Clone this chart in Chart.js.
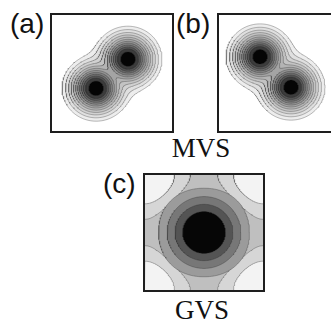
<!DOCTYPE html>
<html>
<head>
<meta charset="utf-8">
<script src="https://cdn.jsdelivr.net/npm/chart.js@4.4.1/dist/chart.umd.min.js"></script>
<style>
  html, body { margin: 0; padding: 0; background: #fff; overflow: hidden; }
  body { width: 331px; height: 322px; position: relative; }
  .panel { position: absolute; box-sizing: border-box; border: 2px solid #1e1e1e; background: #fff; }
  .panel canvas { display: block; }
  .tag { position: absolute; font-family: 'Liberation Sans', Arial, sans-serif; font-size: 28px; line-height: 1; color: #111; white-space: nowrap; }
  .caption { position: absolute; font-family: 'Liberation Serif', 'Times New Roman', serif; font-size: 27px; line-height: 1; color: #111; white-space: nowrap; transform: translateX(-50%); }
</style>
</head>
<body>
<div class="tag" style="left:10px;top:10px">(a)</div>
<div class="panel" style="left:50px;top:13px;width:124px;height:120px"><canvas id="chartA" width="120" height="116"></canvas></div>
<div class="tag" style="left:176px;top:10px">(b)</div>
<div class="panel" style="left:217px;top:13px;width:124px;height:120px"><canvas id="chartB" width="120" height="116"></canvas></div>
<div class="caption" style="left:201px;top:135px">MVS</div>
<div class="tag" style="left:103px;top:170px">(c)</div>
<div class="panel" id="panelC" style="left:143px;top:173px;width:122px;height:119px"><canvas id="chartC" width="118" height="115"></canvas></div>
<div class="caption" style="left:202px;top:297px">GVS</div>

<script>
// ===== DATA =====
// MVS panels: well centres in axis units (0..1), contour radii from outer to inner
const mvsWellsA = [[0.367, 0.368], [0.633, 0.62]];
const mvsWellsB = [[0.342, 0.64], [0.6, 0.377]];
const mvsRadii = [0.283, 0.254, 0.229, 0.208, 0.188, 0.17, 0.153, 0.137, 0.121, 0.105, 0.088, 0.062];
// GVS panel: axis -1..1, central ring radii (outer -> inner), corner contour levels (outer -> inner)
const gvsRingRadii = [0.77, 0.625, 0.49, 0.364];
const gvsCornerLevels = [-0.25, -1];

// ===== STYLE =====
const MVS_GREYS = ['#ededed', '#dfdfdf', '#d1d1d1', '#c3c3c3', '#b4b4b4', '#a4a4a4',
                   '#939393', '#808080', '#6c6c6c', '#565656', '#3c3c3c', '#050505'];
const GVS_RING_GREYS = ['#9b9b9b', '#777777', '#545454', '#060606'];
const GVS_RING_SHAPE = [2.15, 2, 2, 2];
const GVS_CORNER_GREYS = ['#d6d6d6', '#f3f3f3'];
const LINE_COLOR = 'rgba(40, 40, 40, 0.45)';
const SOFT_P = 6;

// ===== CONTOUR HELPERS =====
function softDist(wells, x, y) {
    let s = 0;
    wells.forEach(([cx, cy]) => {
        const d = Math.hypot(x - cx, y - cy) || 1e-9;
        s += Math.pow(d, -SOFT_P);
    });
    return Math.pow(s, -1 / SOFT_P);
}

// outermost crossing of inside() along rays from (ox, oy)
function traceLoop(inside, ox, oy, rMax, steps) {
    const pts = [];
    const dr = rMax / 200;
    for (let i = 0; i <= steps; i++) {
        const a = (i / steps) * Math.PI * 2;
        const dx = Math.cos(a), dy = Math.sin(a);
        let r = rMax;
        while (r > 0 && !inside(ox + dx * r, oy + dy * r)) r -= dr;
        let lo = Math.max(r, 0), hi = lo + dr;
        for (let k = 0; k < 20; k++) {
            const m = (lo + hi) / 2;
            if (inside(ox + dx * m, oy + dy * m)) lo = m; else hi = m;
        }
        pts.push({ x: ox + dx * lo, y: oy + dy * lo });
    }
    return pts;
}

function shapeSet(pts, color, k, line) {
    return {
        data: pts,
        backgroundColor: color,
        fill: color ? 'shape' : false,
        borderColor: LINE_COLOR,
        borderWidth: line ? 0.7 : 0,
        pointRadius: 0,
        tension: 0,
        order: -k
    };
}

function mvsDatasets(wells) {
    const [p, q] = wells;
    const mx = (p[0] + q[0]) / 2, my = (p[1] + q[1]) / 2;
    const saddle = softDist(wells, mx, my);
    const half = Math.hypot(p[0] - q[0], p[1] - q[1]) / 2;
    const sets = [];
    mvsRadii.forEach((R, k) => {
        const inside = (x, y) => softDist(wells, x, y) <= R;
        const loops = R > saddle
            ? [traceLoop(inside, mx, my, 0.9, 240)]
            : wells.map(([cx, cy]) => traceLoop(inside, cx, cy, half, 120));
        loops.forEach(pts => sets.push(shapeSet(pts, MVS_GREYS[k], sets.length, true)));
    });
    return sets;
}

function gvsDatasets() {
    const sets = [];
    const cosSum = (x, y) => Math.cos(Math.PI * x) + Math.cos(Math.PI * y);
    const corners = [[-1, -1], [1, -1], [1, 1], [-1, 1]];

    gvsCornerLevels.forEach((c, k) => {
        corners.forEach(([sx, sy]) => {
            const curve = [];
            for (let i = 0; i <= 60; i++) {
                const a = (i / 60) * Math.PI / 2;
                const dx = -sx * Math.cos(a), dy = -sy * Math.sin(a);
                let r = 0;
                while (r < 1.5 && cosSum(sx + dx * r, sy + dy * r) < c) r += 0.01;
                let lo = Math.max(r - 0.01, 0), hi = r;
                for (let j = 0; j < 20; j++) {
                    const m = (lo + hi) / 2;
                    if (cosSum(sx + dx * m, sy + dy * m) < c) lo = m; else hi = m;
                }
                curve.push({ x: sx + dx * hi, y: sy + dy * hi });
            }
            const corner = { x: sx, y: sy };
            sets.push(shapeSet([corner, ...curve, corner], GVS_CORNER_GREYS[k], sets.length, false));
            sets.push(shapeSet(curve, null, sets.length, true));
        });
    });

    gvsRingRadii.forEach((R, k) => {
        const n = GVS_RING_SHAPE[k];
        const pts = [];
        for (let i = 0; i <= 180; i++) {
            const a = (i / 180) * Math.PI * 2;
            const ca = Math.cos(a), sa = Math.sin(a);
            pts.push({
                x: R * Math.sign(ca) * Math.pow(Math.abs(ca), 2 / n),
                y: R * Math.sign(sa) * Math.pow(Math.abs(sa), 2 / n)
            });
        }
        sets.push(shapeSet(pts, GVS_RING_GREYS[k], sets.length, true));
    });
    return sets;
}

// ===== CHARTS =====
function makePanel(id, datasets, min, max) {
    new Chart(document.getElementById(id), {
        type: 'line',
        data: { datasets },
        options: {
            responsive: false,
            animation: false,
            events: [],
            layout: { padding: 0 },
            plugins: { legend: { display: false }, tooltip: { enabled: false } },
            scales: {
                x: { type: 'linear', min, max, display: false },
                y: { type: 'linear', min, max, display: false }
            }
        }
    });
}

document.getElementById('panelC').style.background = '#bfbfbf';
makePanel('chartA', mvsDatasets(mvsWellsA), 0, 1);
makePanel('chartB', mvsDatasets(mvsWellsB), 0, 1);
makePanel('chartC', gvsDatasets(), -1, 1);
</script>
</body>
</html>
